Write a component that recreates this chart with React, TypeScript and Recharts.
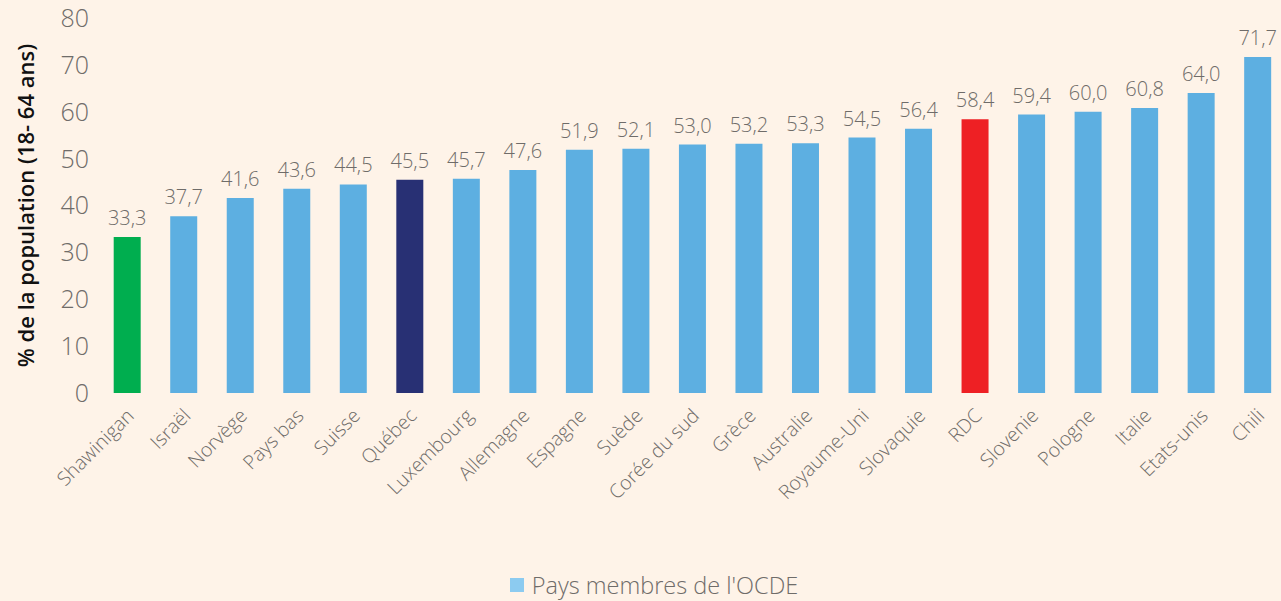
import React from "react";
import { BarChart, Bar, XAxis, YAxis, Cell, LabelList, Legend } from "recharts";

const countries = [
  "Shawinigan", "Israël", "Norvège", "Pays bas", "Suisse", "Québec", "Luxembourg",
  "Allemagne", "Espagne", "Suède", "Corée du sud", "Grèce", "Australie", "Royaume-Uni",
  "Slovaquie", "RDC", "Slovenie", "Pologne", "Italie", "Etats-unis", "Chili",
];

const values = [
  33.3, 37.7, 41.6, 43.6, 44.5, 45.5, 45.7, 47.6, 51.9, 52.1, 53.0,
  53.2, 53.3, 54.5, 56.4, 58.4, 59.4, 60.0, 60.8, 64.0, 71.7,
];

const yTicks = [0, 10, 20, 30, 40, 50, 60, 70, 80];

const data = countries.map((name, i) => ({ name, value: values[i] }));

const BG = "#fef3e8";
const BLUE = "#5dafe1";
const HIGHLIGHT: Record<string, string> = {
  Shawinigan: "#00ae4f",
  "Québec": "#283074",
  RDC: "#ee2024",
};
const FONT = "'Open Sans', sans-serif";
const GREY = "#6f6c69";

function XTick({ x, y, payload }: any) {
  return (
    <text
      x={x + 8}
      y={y + 16}
      transform={`rotate(-45, ${x + 8}, ${y + 16})`}
      textAnchor="end"
      fill={GREY}
      fontSize={19.5}
      fontWeight={300}
      fontFamily={FONT}
    >
      {payload.value}
    </text>
  );
}

function LegendContent() {
  return (
    <div style={{ display: "flex", justifyContent: "center", alignItems: "center", paddingLeft: 22 }}>
      <span style={{ width: 14, height: 14, background: "#8ccbf0", display: "inline-block", marginRight: 8 }} />
      <span style={{ fontFamily: FONT, fontWeight: 300, fontSize: 23.5, color: GREY, lineHeight: "28px" }}>
        Pays membres de l'OCDE
      </span>
    </div>
  );
}

export default function App() {
  return (
    <div
      style={{
        position: "fixed",
        top: 0,
        left: 0,
        width: 1281,
        height: 601,
        overflow: "hidden",
        background: BG,
      }}
    >
      <BarChart
        width={1286}
        height={601}
        data={data}
        margin={{ top: 18, right: 0, bottom: 0, left: 0 }}
        barCategoryGap="26%"
      >
        <XAxis
          dataKey="name"
          axisLine={false}
          tickLine={false}
          interval={0}
          height={178}
          tick={<XTick />}
        />
        <YAxis
          width={99}
          domain={[0, 80]}
          ticks={yTicks}
          axisLine={false}
          tickLine={false}
          tick={{ fill: GREY, fontSize: 25, fontWeight: 300, fontFamily: FONT }}
          tickMargin={4}
          label={{
            value: "% de la population (18- 64 ans)",
            angle: -90,
            position: "insideLeft",
            offset: 26,
            style: { textAnchor: "middle", fill: "#111", fontSize: 22, fontWeight: 600, fontFamily: FONT },
          }}
        />
        <Legend verticalAlign="bottom" height={30} content={<LegendContent />} />
        <Bar dataKey="value" isAnimationActive={false}>
          {data.map((d) => (
            <Cell key={d.name} fill={HIGHLIGHT[d.name] ?? BLUE} />
          ))}
          <LabelList
            dataKey="value"
            position="top"
            offset={12}
            formatter={(v: any) => Number(v).toFixed(1).replace(".", ",")}
            style={{ fill: GREY, fontSize: 20, fontWeight: 300, fontFamily: FONT }}
          />
        </Bar>
      </BarChart>
    </div>
  );
}
